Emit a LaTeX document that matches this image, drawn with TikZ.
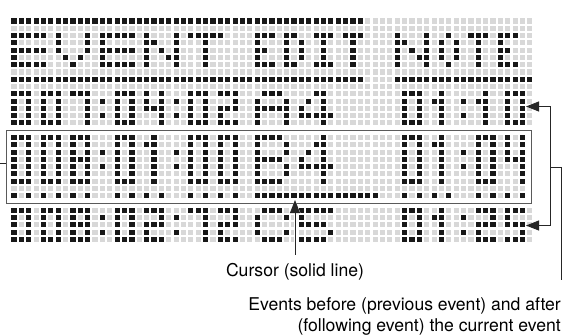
\documentclass[tikz,border=0pt]{standalone}
\usepackage{fontspec}
\setmainfont{TeX Gyre Heros}
\usepackage{tikz}
\usetikzlibrary{arrows.meta, positioning}
\definecolor{doton}{RGB}{24,24,24}
\definecolor{dotoff}{RGB}{216,216,216}
\definecolor{rimgray}{RGB}{90,90,90}
\tikzstyle{lcdon} = [fill=doton]
\tikzstyle{lcdoff} = [fill=dotoff]
\tikzstyle{curframe} = [draw=rimgray, line width=1.4bp, inner sep=0pt, minimum width=524.4bp, minimum height=73.4bp]
\tikzstyle{lead} = [draw=black!85, line width=0.9bp]
\tikzstyle{pointer} = [lead, -{Triangle[length=13bp, width=10bp]}]
\tikzstyle{twoway} = [lead, {Triangle[length=13bp, width=10bp]}-{Triangle[length=13bp, width=10bp]}]
\tikzstyle{halo} = [preaction={draw=white, line width=3bp}]
\tikzstyle{callout} = [font=\fontsize{17.6bp}{21bp}\selectfont, inner sep=0pt, text=black]

% one dot of the matrix, and glyphs given as {columns}/row
\newcommand{\lcddot}[3]{\fill[#1] ({#2},{#3}) +(-.35,-.35) rectangle +(.35,.35);}
\newcommand{\lcdglyph}[3]{%
  \expandafter\let\expandafter\lcdbits\csname lcd#3\endcsname
  \foreach \gcols/\grow in \lcdbits {%
    \foreach \gcol in \gcols {\lcddot{lcdon}{#1+\gcol}{#2+\grow}}}}
\newcommand{\lcdrow}[2]{\foreach \gx/\gname in {#2} {\lcdglyph{\gx}{#1}{\gname}}}

% small digits (3x5)
\def\lcdZeroS{{0,1,2}/0,{0,2}/1,{0,2}/2,{0,2}/3,{0,1,2}/4}
\def\lcdOneS{{1}/0,{0,1}/1,{1}/2,{1}/3,{1}/4}
\def\lcdTwoS{{0,1,2}/0,{2}/1,{0,1,2}/2,{0}/3,{0,1,2}/4}
\def\lcdFourS{{0,2}/0,{0,2}/1,{0,1,2}/2,{2}/3,{2}/4}
\def\lcdFiveS{{0,1,2}/0,{0}/1,{0,1,2}/2,{2}/3,{0,1,2}/4}
\def\lcdSevenS{{0,1,2}/0,{2}/1,{2}/2,{2}/3,{2}/4}
\def\lcdEightS{{0,1,2}/0,{0,2}/1,{0,1,2}/2,{0,2}/3,{0,1,2}/4}
\def\lcdColonS{{0}/1,{0}/3}
% large digits (3x7)
\def\lcdZeroL{{0,1,2}/0,{0,2}/1,{0,2}/2,{0,2}/3,{0,2}/4,{0,2}/5,{0,1,2}/6}
\def\lcdOneL{{1}/0,{0,1}/1,{1}/2,{1}/3,{1}/4,{1}/5,{1}/6}
\def\lcdFourL{{0,2}/0,{0,2}/1,{0,2}/2,{0,1,2}/3,{2}/4,{2}/5,{2}/6}
\def\lcdEightL{{0,1,2}/0,{0,2}/1,{0,2}/2,{0,1,2}/3,{0,2}/4,{0,2}/5,{0,1,2}/6}
\def\lcdColonL{{0}/2,{0}/4}
% wide letters (5x5)
\def\lcdEW{{0,1,2,3,4}/0,{0}/1,{0,1,2,3,4}/2,{0}/3,{0,1,2,3,4}/4}
\def\lcdVW{{0,4}/0,{0,4}/1,{0,4}/2,{1,3}/3,{2}/4}
\def\lcdNW{{0,4}/0,{0,1,4}/1,{0,2,4}/2,{0,3,4}/3,{0,4}/4}
\def\lcdTW{{0,1,2,3,4}/0,{2}/1,{2}/2,{2}/3,{2}/4}
\def\lcdAW{{1,2,3}/0,{0,4}/1,{0,1,2,3,4}/2,{0,4}/3,{0,4}/4}
\def\lcdCW{{1,2,3}/0,{0,4}/1,{0}/2,{0,4}/3,{1,2,3}/4}
\def\lcdFourW{{2,3}/0,{1,3}/1,{0,3}/2,{0,1,2,3,4}/3,{3}/4}
\def\lcdFiveW{{0,1,2,3,4}/0,{0}/1,{0,1,2,3}/2,{4}/3,{0,1,2,3}/4}
% wide letters (5x7)
\def\lcdBWL{{0,1,2,3}/0,{0,4}/1,{0,4}/2,{0,1,2,3}/3,{0,4}/4,{0,4}/5,{0,1,2,3}/6}
\def\lcdFourWL{{3}/0,{2,3}/1,{1,3}/2,{0,3}/3,{0,1,2,3,4}/4,{3}/5,{3}/6}
% narrow letters (3x5)
\def\lcdE{{0,1,2}/0,{0}/1,{0,1}/2,{0}/3,{0,1,2}/4}
\def\lcdD{{0,1}/0,{0,2}/1,{0,2}/2,{0,2}/3,{0,1}/4}
\def\lcdI{{0,1,2}/0,{1}/1,{1}/2,{1}/3,{0,1,2}/4}
\def\lcdT{{0,1,2}/0,{1}/1,{1}/2,{1}/3,{1}/4}
\def\lcdO{{1}/0,{0,2}/1,{0,2}/2,{0,2}/3,{1}/4}

\begin{document}
\begin{tikzpicture}[x=1bp, y=-1bp]
\useasboundingbox (0,0) rectangle (569,335);

% ===== DOT MATRIX =====
\begin{scope}[shift={(14,21)}, x=7.37bp, y=-7.28bp]
% unlit dots
\foreach \r in {0,...,14} {\foreach \c in {0,...,70} {\lcddot{lcdoff}{\c}{\r}}}
\foreach \r in {16,...,24} {\foreach \c in {0,...,69} {\lcddot{lcdoff}{\c}{\r}}}
\foreach \r in {26,...,30} {\foreach \c in {0,...,70} {\lcddot{lcdoff}{\c}{\r}}}

% rules round the title
\foreach \c in {0,...,47} {\lcddot{lcdon}{\c}{0}\lcddot{lcdon}{\c}{8}}
\foreach \c in {52,...,70} {\lcddot{lcdon}{\c}{8}}

% title
\lcdrow{2}{0/EW,6/VW,12/EW,18/NW,24/TW,33/E,37/D,41/I,45/T,52/NW,58/O,62/T,66/E}

% previous event
\lcdrow{10}{0/ZeroS,4/ZeroS,8/SevenS,12/ColonS,14/ZeroS,18/FourS,22/ColonS,24/ZeroS,28/TwoS,33/AW,39/FourW,53/ZeroS,57/OneS,61/ColonS,63/OneS,67/ZeroS}

% current event
\lcdrow{16}{0/ZeroL,4/ZeroL,8/EightL,12/ColonL,14/ZeroL,18/OneL,22/ColonL,24/ZeroL,28/ZeroL,33/BWL,39/FourWL,53/ZeroL,57/OneL,61/ColonL,63/ZeroL,67/FourL}

% cursor line
\foreach \c in {0,2,4,6,8,10,14,16,18,20,24,26,28,30,53,55,57,59,63,65,67,69} {\lcddot{lcdon}{\c}{24}}
\foreach \c in {33,...,49} {\lcddot{lcdon}{\c}{24}}

% following event
\lcdrow{26}{0/ZeroS,4/ZeroS,8/EightS,12/ColonS,14/ZeroS,18/TwoS,22/ColonS,24/SevenS,28/TwoS,33/CW,39/FiveW,53/ZeroS,57/OneS,61/ColonS,63/TwoS,67/FiveS}
\end{scope}

% ===== CALLOUTS =====
\node (curevent) [curframe] at (269,166.9) {};
\coordinate (lout) at (0,163);
\draw [lead] (lout) -- (lout -| curevent.west);

% cursor
\node (curlabel) [callout] at (295,271.5) {Cursor (solid line)};
\coordinate (curtip) at (295,200);
\draw [pointer, halo, shorten <=8bp] (curlabel.north) -- (curtip);

% previous and following event
\coordinate (prevev) at (526,106.5);
\coordinate (nextev) at (526,225.5);
\coordinate (brk) at (550,167);
\draw [twoway, halo] (prevev) -| (brk) |- (nextev);
\node (evlabel) [callout, anchor=north east, align=right] at (561,297) {Events before (previous event) and after\\(following event) the current event};
\draw [lead, shorten >=17bp] (brk) -| (evlabel.north east);

\end{tikzpicture}
\end{document}
